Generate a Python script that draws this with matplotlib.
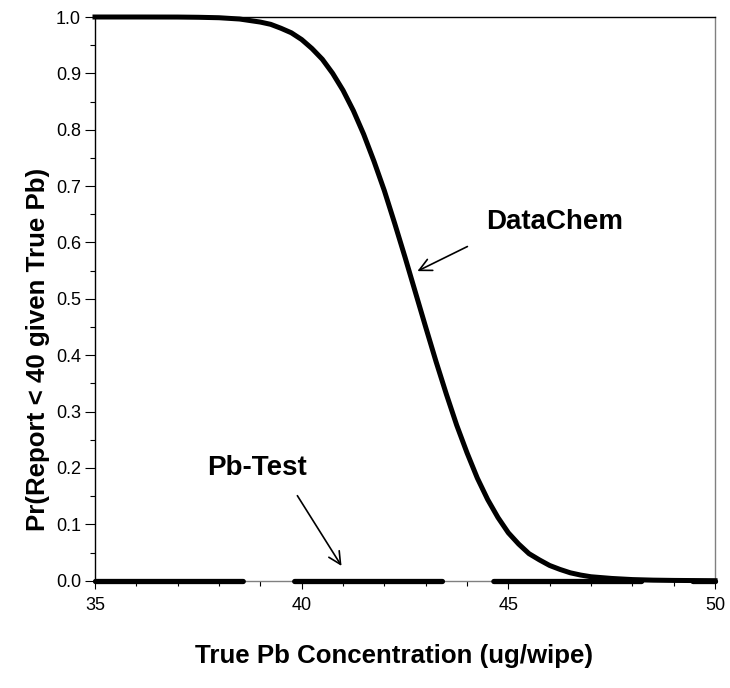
import matplotlib
matplotlib.use("Agg")
import matplotlib.pyplot as plt
from matplotlib.ticker import MultipleLocator, FormatStrFormatter

# DataChem curve: Pr(Report < 40 | true Pb)
datachem_x = [35.0, 36.0, 37.0, 37.5, 38.0, 38.5, 39.0, 39.25, 39.5, 39.75, 40.0, 40.25,
              40.5, 40.75, 41.0, 41.25, 41.5, 41.75, 42.0, 42.25, 42.5, 42.75, 43.0,
              43.25, 43.5, 43.75, 44.0, 44.25, 44.5, 44.75, 45.0, 45.25, 45.5, 45.75,
              46.0, 46.25, 46.5, 46.75, 47.0, 47.5, 48.0, 48.5, 49.0, 50.0]
datachem_y = [1.000, 1.000, 0.9999, 0.9995, 0.9987, 0.9964, 0.991, 0.987, 0.980, 0.972,
              0.960, 0.944, 0.925, 0.900, 0.870, 0.834, 0.792, 0.744, 0.692, 0.634,
              0.574, 0.512, 0.450, 0.389, 0.331, 0.276, 0.227, 0.182, 0.144, 0.112,
              0.085, 0.065, 0.048, 0.037, 0.027, 0.020, 0.014, 0.010, 0.007, 0.004,
              0.002, 0.001, 0.0005, 0.0]

# Pb-Test curve: essentially zero everywhere
pbtest_x = [35.0, 40.0, 45.0, 50.0]
pbtest_y = [0.0, 0.0, 0.0, 0.0]

x_ticks = [35, 40, 45, 50]
y_ticks = [0.0, 0.1, 0.2, 0.3, 0.4, 0.5, 0.6, 0.7, 0.8, 0.9, 1.0]

plt.rcParams["font.family"] = ["Liberation Sans", "DejaVu Sans"]

fig = plt.figure(figsize=(7.3, 6.88), dpi=100)
ax = fig.add_axes([95/730, 1-580.7/688, 620/730, (580.7-17)/688])

ax.plot(pbtest_x, pbtest_y, color="black", lw=3.8, dashes=(28.0, 9.74),
        dash_capstyle="round", solid_capstyle="round", clip_on=False, zorder=3)
ax.plot(datachem_x, datachem_y, color="black", lw=3.6, solid_joinstyle="round",
        clip_on=False, zorder=4)

ax.set_xlim(35, 50)
ax.set_ylim(0, 1.0)
ax.set_xticks(x_ticks)
ax.set_yticks(y_ticks)
ax.xaxis.set_minor_locator(MultipleLocator(1))
ax.yaxis.set_minor_locator(MultipleLocator(0.05))
ax.yaxis.set_major_formatter(FormatStrFormatter("%.1f"))
ax.tick_params(which="major", direction="out", length=7, width=0.8, labelsize=13, pad=3)
ax.tick_params(which="minor", direction="out", length=3.6, width=0.8)
ax.tick_params(axis="x", which="major", length=6, pad=6)

for s in ["left", "top"]:
    ax.spines[s].set_color("black")
    ax.spines[s].set_linewidth(1.0)
for s in ["right", "bottom"]:
    ax.spines[s].set_color("#808080")
    ax.spines[s].set_linewidth(1.0)

ax.set_xlabel("True Pb Concentration (ug/wipe)", fontsize=18.6, fontweight="bold")
ax.set_ylabel("Pr(Report < 40 given True Pb)", fontsize=18.6, fontweight="bold")
ax.xaxis.set_label_coords(0.482, -0.113)
ax.yaxis.set_label_coords(-0.072, 0.41)

arrow = dict(arrowstyle="->", color="black", lw=1.2, mutation_scale=22)
ax.annotate("", xy=(42.74, 0.547), xytext=(44.07, 0.595), arrowprops=arrow)
ax.text(46.13, 0.636, "DataChem", fontsize=20, fontweight="bold",
        ha="center", va="center")
ax.annotate("", xy=(41.0, 0.022), xytext=(39.86, 0.155), arrowprops=arrow)
ax.text(38.92, 0.200, "Pb-Test", fontsize=20, fontweight="bold",
        ha="center", va="center")

fig.savefig("out.png", dpi=100)
